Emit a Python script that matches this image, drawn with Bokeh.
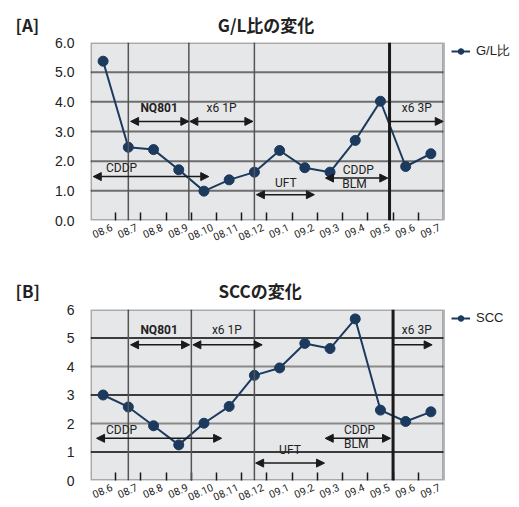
from bokeh.plotting import figure
from bokeh.layouts import column
from bokeh.models import (Range1d, FixedTicker, PrintfTickFormatter, Span, Arrow,
                          NormalHead, Label, Legend, LegendItem, Title, BoxAnnotation)
from bokeh.embed import file_html
from bokeh.resources import INLINE

# Monthly observations
months = ["08.6", "08.7", "08.8", "08.9", "08.10", "08.11", "08.12",
          "09.1", "09.2", "09.3", "09.4", "09.5", "09.6", "09.7"]
gl_ratio = [5.37, 2.47, 2.39, 1.71, 0.99, 1.37, 1.63, 2.36, 1.78, 1.63, 2.70, 4.02, 1.82, 2.25]
scc = [3.00, 2.58, 1.92, 1.25, 2.01, 2.60, 3.69, 3.95, 4.81, 4.63, 5.67, 2.47, 2.07, 2.41]
y_ticks = [0, 1, 2, 3, 4, 5, 6]

NAVY = "#1c3a5e"
BG = "#e6e7e9"
INK = "#222222"
NARROW = "Roboto"
SANS = "Liberation Sans"
CJK = "Noto Sans CJK JP"
GAP = "\u3000" * 10 + "\u2002"   # wide blank between the panel tag and its heading

N = len(months)
X0, X1 = -0.5, N - 0.5          # chart box in data units
X_END = X0 + 429 / 25.214       # the frame runs on to the right edge to hold the legend
SHIFT = 0.34                    # month labels sit a little right of their points

# treatment periods: (x_start, x_end, y, both_heads)
periods_a = [(1.09, 3.40, 3.34, True), (3.44, 5.94, 3.34, True), (-0.39, 4.19, 1.48, True),
             (6.08, 8.38, 0.87, True), (8.82, 11.29, 1.43, True), (11.40, 13.49, 3.34, False)]
notes_a = [("NQ801", 2.22, 3.56, "bold"), ("x6 1P", 4.70, 3.56, "normal"),
           ("CDDP", 0.73, 1.55, "normal"), ("UFT", 7.25, 1.03, "normal"),
           ("CDDP", 10.12, 1.46, "normal"), ("BLM", 9.97, 0.98, "normal"),
           ("x6 3P", 12.44, 3.56, "normal")]
periods_b = [(1.09, 3.43, 4.76, True), (3.56, 6.31, 4.76, True), (-0.26, 4.70, 1.48, True),
             (6.05, 8.78, 0.61, True), (8.81, 11.40, 1.48, True), (11.51, 13.05, 4.76, False)]
notes_b = [("NQ801", 2.22, 5.02, "bold"), ("x6 1P", 4.91, 5.02, "normal"),
           ("CDDP", 0.73, 1.52, "normal"), ("UFT", 7.41, 0.83, "normal"),
           ("CDDP", 10.17, 1.52, "normal"), ("BLM", 10.04, 1.05, "normal"),
           ("x6 3P", 12.44, 5.02, "normal")]


def make_panel(values, name, heading, fmt, periods, notes, vlines, thick, hcolors,
               height, top, bottom, standoff, legend_y):
    p = figure(width=519, height=height, output_backend="svg", toolbar_location=None,
               x_range=Range1d(X0, X_END), y_range=Range1d(0, 6),
               min_border_left=90, min_border_right=0,
               min_border_top=top, min_border_bottom=bottom)
    p.title = Title(text=heading, align="left", offset=-75, standoff=standoff,
                    text_font=CJK, text_font_size="17px", text_font_style="bold",
                    text_color=INK)
    p.background_fill_color = "white"
    p.border_fill_color = "white"
    p.outline_line_color = None
    p.xgrid.visible = False
    p.ygrid.visible = False

    # grey chart box behind everything, dark border on top
    p.add_layout(BoxAnnotation(left=X0, right=X1, bottom=0, top=6, fill_color=BG,
                               fill_alpha=1, line_color=None, level="underlay"))

    # x axis on a shifted copy of the range so labels sit just right of the points;
    # short inward ticks mark the month boundaries
    p.extra_x_ranges = {"labels": Range1d(X0 - SHIFT, X_END - SHIFT)}
    xa = p.xaxis[0]
    xa.x_range_name = "labels"
    xa.ticker = FixedTicker(ticks=list(range(N)),
                            minor_ticks=[i + 0.5 - SHIFT for i in range(N - 1)])
    xa.major_label_overrides = {i: m for i, m in enumerate(months)}
    xa.major_label_orientation = 0.42
    xa.major_tick_line_color = None
    xa.minor_tick_in = 8
    xa.minor_tick_out = 0
    xa.minor_tick_line_color = "#1a1a1a"
    xa.minor_tick_line_width = 1.5
    xa.axis_line_color = None
    xa.major_label_standoff = 0
    xa.major_label_text_font = NARROW
    xa.major_label_text_font_size = "10.5px"
    xa.major_label_text_color = INK

    ya = p.yaxis[0]
    ya.ticker = FixedTicker(ticks=y_ticks)
    ya.formatter = PrintfTickFormatter(format=fmt)
    ya.major_tick_line_color = None
    ya.minor_tick_line_color = None
    ya.axis_line_color = None
    ya.major_label_standoff = 10
    ya.major_label_text_font = SANS
    ya.major_label_text_font_size = "14px"
    ya.major_label_text_color = INK

    hy = [1, 2, 3, 4, 5]
    p.segment(x0=[X0] * 5, y0=hy, x1=[X1] * 5, y1=hy, line_color=hcolors, line_width=2)
    for xv in vlines:
        p.add_layout(Span(location=xv, dimension="height", line_color="#555555", line_width=1.5))
    p.add_layout(Span(location=thick, dimension="height", line_color="#1a1a1a", line_width=3))

    xs = list(range(len(values)))
    lr = p.line(xs, values, line_color=NAVY, line_width=2)
    sr = p.scatter(xs, values, size=10, fill_color=NAVY, line_color=NAVY)

    for x0, x1, yv, both in periods:
        head = dict(size=8, fill_color="#1a1a1a", line_color="#1a1a1a")
        p.add_layout(Arrow(x_start=x0, y_start=yv, x_end=x1, y_end=yv,
                           start=NormalHead(**head) if both else None,
                           end=NormalHead(**head),
                           line_color="#1a1a1a", line_width=1.5))
    for txt, xv, yv, wt in notes:
        p.add_layout(Label(x=xv, y=yv, text=txt, text_align="center", text_baseline="bottom",
                           text_font=NARROW, text_font_size="12px", text_font_style=wt,
                           text_color=INK))

    p.add_layout(BoxAnnotation(left=X0, right=X1, bottom=0, top=6, fill_alpha=0,
                               line_color="#1a1a1a", line_width=3, level="overlay"))

    legend = Legend(items=[LegendItem(label=name, renderers=[lr, sr])],
                    location=(361, legend_y), padding=0, margin=0, spacing=0,
                    glyph_width=19, glyph_height=14, label_standoff=6,
                    label_text_font=SANS, label_text_font_size="13px",
                    label_text_color=INK,
                    border_line_color=None, background_fill_alpha=0)
    p.add_layout(legend)
    return p


pa = make_panel(gl_ratio, "G/L比", "[A]" + GAP + "G/L比の変化", "%.1f", periods_a, notes_a,
                [1, 3.4, 6], 11.36, ["#6e6e6e"] * 5,
                height=254, top=42, bottom=34, standoff=12, legend_y=160)
pb = make_panel(scc, "SCC", "[B]" + GAP + "SCCの変化", "%d", periods_b, notes_b,
                [1, 3.5, 6], 11.5, ["#3c3c3c", "#8a8a8a", "#3c3c3c", "#8a8a8a", "#3c3c3c"],
                height=253, top=55, bottom=20, standoff=13, legend_y=155)

layout = column(pa, pb, spacing=0)
open("out.html", "w").write(file_html(layout, INLINE))
